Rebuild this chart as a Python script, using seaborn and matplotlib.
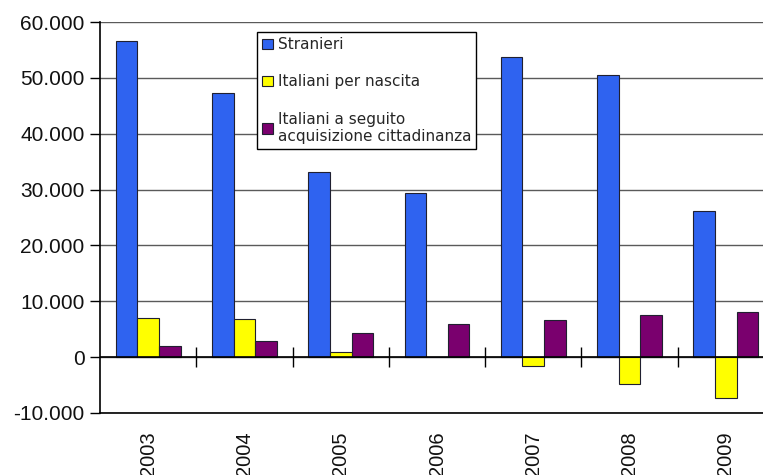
import matplotlib
matplotlib.use("Agg")
import matplotlib.pyplot as plt
import seaborn as sns
import pandas as pd
from matplotlib.ticker import FuncFormatter, FixedLocator
from matplotlib.patches import Patch

years = ["2003", "2004", "2005", "2006", "2007", "2008", "2009"]
series_names = ["Stranieri", "Italiani per nascita",
                "Italiani a seguito\nacquisizione cittadinanza"]
stranieri = [56600, 47300, 33200, 29400, 53800, 50500, 26200]
italiani_nascita = [7000, 6800, 950, 0, -1650, -4800, -7300]
italiani_acquisizione = [1970, 2920, 4360, 5850, 6620, 7460, 8060]
colors = ["#2F63F0", "#FFFF00", "#7A006E"]
yticks = [-10000, 0, 10000, 20000, 30000, 40000, 50000, 60000]

rows = []
for name, vals in zip(series_names, [stranieri, italiani_nascita, italiani_acquisizione]):
    for y, v in zip(years, vals):
        rows.append({"anno": y, "serie": name, "valore": v})
df = pd.DataFrame(rows)

sns.set_style("white")
plt.rcParams["font.family"] = ["Liberation Sans", "DejaVu Sans"]

W, H = 763, 475
fig = plt.figure(figsize=(W / 100, H / 100), dpi=100)
ax = fig.add_axes([100 / W, 62 / H, 674 / W, 391 / H])

sns.barplot(data=df, x="anno", y="valore", hue="serie", order=years,
            hue_order=series_names, palette=colors, saturation=1, width=0.675,
            edgecolor="#202030", linewidth=0.8, legend=False, ax=ax,
            errorbar=None, zorder=3)

ax.set_xlim(-0.5, len(years) - 0.5)
ax.set_ylim(yticks[0], yticks[-1])
ax.yaxis.set_major_locator(FixedLocator(yticks))
ax.yaxis.set_major_formatter(FuncFormatter(lambda v, p: f"{int(v):,}".replace(",", ".")))
ax.grid(axis="y", color="#5a5a5a", linewidth=1.0, zorder=0)
ax.axhline(0, color="black", linewidth=1.2, zorder=4)

for s in ["top", "right"]:
    ax.spines[s].set_visible(False)
for s in ["left", "bottom"]:
    ax.spines[s].set_color("black")
    ax.spines[s].set_linewidth(1.2)

ax.set_xlabel("")
ax.set_ylabel("")
ax.tick_params(axis="y", left=True, length=7, width=1, color="black",
               labelsize=15, pad=4, labelcolor="#111111")
ax.tick_params(axis="x", bottom=False, labelsize=14.5, pad=10, labelcolor="#111111")
for lab in ax.get_xticklabels():
    lab.set_rotation(90)
    lab.set_va("top")
    lab.set_ha("center")

# category separator ticks crossing the zero line
bounds = [i + 0.5 for i in range(len(years) - 1)]
ax.plot(bounds, [0] * len(bounds), linestyle="none", marker="|",
        markersize=14, markeredgewidth=1.0, color="black", zorder=5)

handles = [Patch(facecolor=c, edgecolor="#202030", linewidth=0.8) for c in colors]
leg = fig.legend(handles, series_names, loc="upper left",
                 bbox_to_anchor=(257 / W, 1 - 32 / H), bbox_transform=fig.transFigure,
                 prop={"family": "DejaVu Sans", "size": 11}, frameon=True,
                 fancybox=False, edgecolor="black", framealpha=1,
                 handlelength=0.7, handleheight=0.7, handletextpad=0.3,
                 labelspacing=1.45, borderpad=0.35, borderaxespad=0)
leg.get_frame().set_linewidth(1.0)

fig.savefig("out.png", dpi=100)
